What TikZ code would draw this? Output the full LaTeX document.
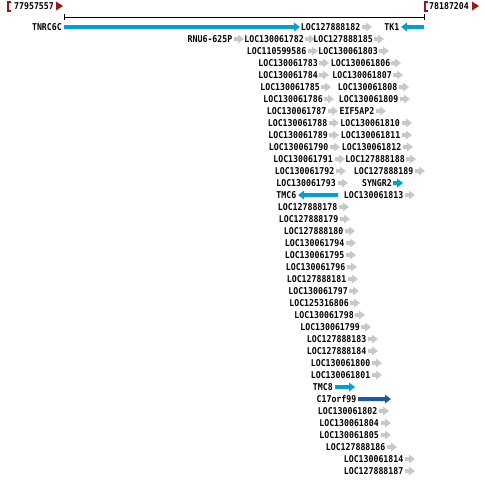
\documentclass[tikz,border=0pt]{standalone}
\usepackage{fontspec}
\newfontfamily\genefont{DejaVu Sans Mono}[FakeStretch=0.875]
\definecolor{genegray}{RGB}{200,200,200}
\definecolor{geneblue}{RGB}{0,160,210}
\definecolor{genedark}{RGB}{30,88,160}
\definecolor{markred}{RGB}{165,20,20}
% gene glyphs: colour, start, end, row
\newcommand{\fwdgene}[4]{\fill[#1] (#2,#4-2) -- (#3-6,#4-2) -- (#3-6,#4-4.5) -- (#3,#4)
  -- (#3-6,#4+4.5) -- (#3-6,#4+2) -- (#2,#4+2) -- cycle;}
\newcommand{\revgene}[4]{\fill[#1] (#3,#4-2) -- (#2+6,#4-2) -- (#2+6,#4-4.5) -- (#2,#4)
  -- (#2+6,#4+4.5) -- (#2+6,#4+2) -- (#3,#4+2) -- cycle;}
\newcommand{\tinygene}[2]{\fwdgene{genegray}{#1}{#1+10}{#2}}
\begin{document}
\begin{tikzpicture}[x=1pt, y=-1pt,%
% common options for gene labels:
lbl/.style = {font=\genefont\bfseries\fontsize{9.4}{10}\selectfont, inner sep=0, anchor=east,
            text height=6.8pt, text depth=0pt},
% common options for the range marks:
rangelbl/.style = {lbl, anchor=west}]
\useasboundingbox (0,0) rectangle (485,483);
% range and ruler
\draw[markred, line width=1.2] (11,2) -- (8,2) -- (8,11) -- (11,11);
\node[rangelbl] (left) at (14,6) {77957557};
\fill[markred] (56,1.5) -- (63,6) -- (56,10.5) -- cycle;
\draw[markred, line width=1.2] (428,2) -- (425,2) -- (425,11) -- (428,11);
\node[rangelbl] (right) at (429,6) {78187204};
\fill[markred] (472,1.5) -- (479,6) -- (472,10.5) -- cycle;
\draw[line width=0.9] (64,17) -- (424,17);
\draw[line width=0.9] (64,14) -- (64,20);
\draw[line width=0.9] (424,14) -- (424,20);
% row 1
\node[lbl] (tnrc6c) at (62,27) {TNRC6C};
\fwdgene{geneblue}{64}{300}{27}
\node[lbl] (l182) at (360.5,27) {LOC127888182};
\tinygene{362}{27}
\node[lbl] (tk1) at (399.5,27) {TK1};
\revgene{geneblue}{401}{424}{27}
% row 2
\node[lbl] (rnu6) at (232.5,39) {RNU6-625P};
\tinygene{234}{39}
\node[lbl] (l1782) at (304,39) {LOC130061782};
\tinygene{305}{39}
\node[lbl] (l185) at (373,39) {LOC127888185};
\tinygene{374}{39}
% row 3
\node[lbl] (l586) at (306.5,51) {LOC110599586};
\tinygene{308}{51}
\node[lbl] (l1803) at (378,51) {LOC130061803};
\tinygene{379}{51}
% row 4
\node[lbl] (l1783) at (318,63) {LOC130061783};
\tinygene{319}{63}
\node[lbl] (l1806) at (390.5,63) {LOC130061806};
\tinygene{391}{63}
% row 5
\node[lbl] (l1784) at (318,75) {LOC130061784};
\tinygene{319}{75}
\node[lbl] (l1807) at (392,75) {LOC130061807};
\tinygene{393}{75}
% row 6
\node[lbl] (l1785) at (320,87) {LOC130061785};
\tinygene{321}{87}
\node[lbl] (l1808) at (397.5,87) {LOC130061808};
\tinygene{399}{87}
% row 7
\node[lbl] (l1786) at (323,99) {LOC130061786};
\tinygene{324}{99}
\node[lbl] (l1809) at (398.5,99) {LOC130061809};
\tinygene{400}{99}
% row 8
\node[lbl] (l1787) at (326.5,111) {LOC130061787};
\tinygene{328}{111}
\node[lbl] (eif5ap2) at (374.5,111) {EIF5AP2};
\tinygene{376}{111}
% row 9
\node[lbl] (l1788) at (327.5,123) {LOC130061788};
\tinygene{329}{123}
\node[lbl] (l1810) at (400,123) {LOC130061810};
\tinygene{402}{123}
% row 10
\node[lbl] (l1789) at (328,135) {LOC130061789};
\tinygene{329}{135}
\node[lbl] (l1811) at (400.5,135) {LOC130061811};
\tinygene{402}{135}
% row 11
\node[lbl] (l1790) at (328.5,147) {LOC130061790};
\tinygene{330}{147}
\node[lbl] (l1812) at (401.5,147) {LOC130061812};
\tinygene{403}{147}
% row 12
\node[lbl] (l1791) at (333,159) {LOC130061791};
\tinygene{335}{159}
\node[lbl] (l188) at (405,159) {LOC127888188};
\tinygene{406}{159}
% row 13
\node[lbl] (l1792) at (334.5,171) {LOC130061792};
\tinygene{336}{171}
\node[lbl] (l189) at (413.5,171) {LOC127888189};
\tinygene{415}{171}
% row 14
\node[lbl] (l1793) at (336,183) {LOC130061793};
\tinygene{338}{183}
\node[lbl] (syngr2) at (392,183) {SYNGR2};
\fwdgene{geneblue}{393}{403}{183}
% row 15
\node[lbl] (tmc6) at (296.5,195) {TMC6};
\revgene{geneblue}{298}{338}{195}
\node[lbl] (l1813) at (403.5,195) {LOC130061813};
\tinygene{405}{195}
% rows 16 to 30
\node[lbl] (l178) at (337.5,207) {LOC127888178};
\tinygene{339}{207}
\node[lbl] (l179) at (338.5,219) {LOC127888179};
\tinygene{340}{219}
\node[lbl] (l180) at (343.5,231) {LOC127888180};
\tinygene{345}{231}
\node[lbl] (l1794) at (344.5,243) {LOC130061794};
\tinygene{346}{243}
\node[lbl] (l1795) at (344.5,255) {LOC130061795};
\tinygene{346}{255}
\node[lbl] (l1796) at (345.5,267) {LOC130061796};
\tinygene{347}{267}
\node[lbl] (l181) at (346.5,279) {LOC127888181};
\tinygene{348}{279}
\node[lbl] (l1797) at (348,291) {LOC130061797};
\tinygene{349}{291}
\node[lbl] (l806) at (349,303) {LOC125316806};
\tinygene{350}{303}
\node[lbl] (l1798) at (354,315) {LOC130061798};
\tinygene{355}{315}
\node[lbl] (l1799) at (360,327) {LOC130061799};
\tinygene{361}{327}
\node[lbl] (l183) at (366.5,339) {LOC127888183};
\tinygene{368}{339}
\node[lbl] (l184) at (366.5,351) {LOC127888184};
\tinygene{368}{351}
\node[lbl] (l1800) at (370.5,363) {LOC130061800};
\tinygene{372}{363}
\node[lbl] (l1801) at (370.5,375) {LOC130061801};
\tinygene{372}{375}
% rows 31 and 32
\node[lbl] (tmc8) at (333,387) {TMC8};
\fwdgene{geneblue}{335}{355}{387}
\node[lbl] (c17orf99) at (356.5,399) {C17orf99};
\fwdgene{genedark}{358}{391}{399}
% rows 33 to 38
\node[lbl] (l1802) at (377.5,411) {LOC130061802};
\tinygene{379}{411}
\node[lbl] (l1804) at (379,423) {LOC130061804};
\tinygene{381}{423}
\node[lbl] (l1805) at (379,435) {LOC130061805};
\tinygene{381}{435}
\node[lbl] (l186) at (385.5,447) {LOC127888186};
\tinygene{387}{447}
\node[lbl] (l1814) at (403.5,459) {LOC130061814};
\tinygene{405}{459}
\node[lbl] (l187) at (403.5,471) {LOC127888187};
\tinygene{405}{471}
\end{tikzpicture}
\end{document}
